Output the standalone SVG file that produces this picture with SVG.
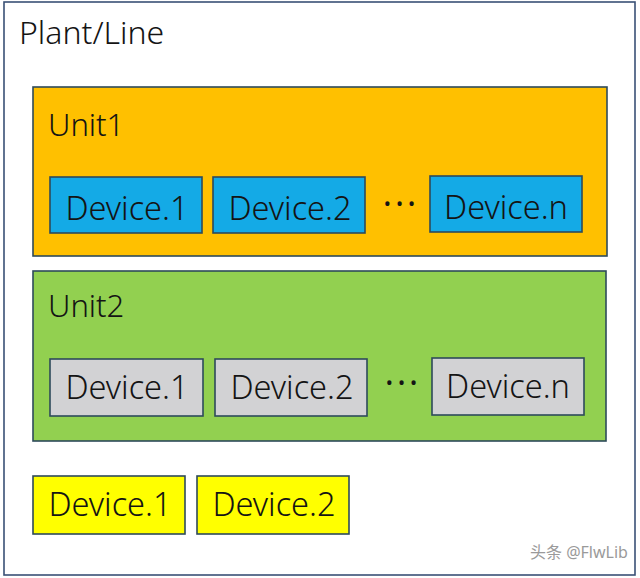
<svg xmlns="http://www.w3.org/2000/svg" width="640" height="578" viewBox="0 0 640 578">
<style>
.box{stroke:#2e4a5a;stroke-width:1.6}
.t{font-family:"Noto Sans","Liberation Sans",sans-serif;fill:#141414;font-weight:300}
.dev{font-size:32.5px;text-anchor:middle}
.dots{font-size:34px;text-anchor:middle;letter-spacing:3px;font-weight:400}
.blue{fill:#14AAE6}
.gray{fill:#D2D2D4}
.yel{fill:#FFFF00}
</style>
<rect width="640" height="578" fill="#ffffff"/>
<g id="plant">
<rect x="4" y="2" width="631" height="573" fill="#ffffff" stroke="#3a5176" stroke-width="1.6"/>
<text class="t" x="19" y="44" font-size="32">Plant/Line</text>
</g>
<g id="unit1">
<rect class="box" x="33" y="87" width="574" height="169" fill="#FFC000"/>
<text class="t" x="48" y="136" font-size="31">Unit1</text>
</g>
<g id="u1d1"><rect class="box blue" x="50" y="177" width="152" height="56"/><text class="t dev" x="127" y="220">Device.1</text></g>
<g id="u1d2"><rect class="box blue" x="213" y="177" width="152" height="56"/><text class="t dev" x="290" y="220">Device.2</text></g>
<text class="t dots" x="401" y="216">···</text>
<g id="u1dn"><rect class="box blue" x="430" y="176" width="152" height="56"/><text class="t dev" x="506" y="219">Device.n</text></g>
<g id="unit2">
<rect class="box" x="33" y="271" width="573" height="170" fill="#92D050"/>
<text class="t" x="48" y="317" font-size="31">Unit2</text>
</g>
<g id="u2d1"><rect class="box gray" x="50" y="359" width="153" height="57"/><text class="t dev" x="127" y="399">Device.1</text></g>
<g id="u2d2"><rect class="box gray" x="215" y="359" width="152" height="57"/><text class="t dev" x="292" y="399">Device.2</text></g>
<text class="t dots" x="403" y="395">···</text>
<g id="u2dn"><rect class="box gray" x="432" y="358" width="152" height="57"/><text class="t dev" x="508" y="398">Device.n</text></g>
<g id="d1"><rect class="box yel" x="33" y="476" width="152" height="58"/><text class="t dev" x="110" y="516">Device.1</text></g>
<g id="d2"><rect class="box yel" x="197" y="476" width="152" height="58"/><text class="t dev" x="274" y="516">Device.2</text></g>
<g id="connectors"></g>
<text x="530" y="558" font-family="'Noto Sans','Noto Sans CJK SC',sans-serif" font-size="16" fill="#9a9a9a">头条 @FlwLib</text>
</svg>
